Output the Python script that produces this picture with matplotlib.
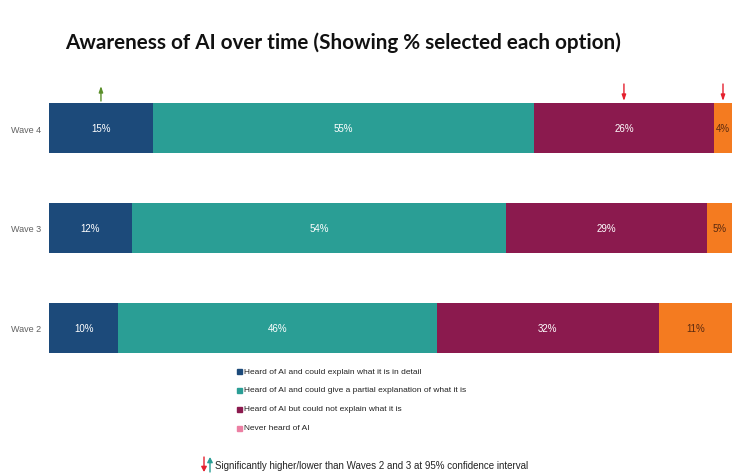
import matplotlib
matplotlib.use("Agg")
import matplotlib.pyplot as plt
import numpy as np
from matplotlib.patches import FancyArrowPatch

waves = ["Wave 2", "Wave 3", "Wave 4"]
detail = [10, 12, 15]
partial = [46, 54, 55]
not_explain = [32, 29, 26]
never = [11, 5, 4]
series_names = [
    "Heard of AI and could explain what it is in detail",
    "Heard of AI and could give a partial explanation of what it is",
    "Heard of AI but could not explain what it is",
    "Never heard of AI",
]
# significance markers for Wave 4: (series index, direction)
sig_wave = "Wave 4"
sig_marks = [(0, "up"), (2, "down"), (3, "down")]

colors = ["#1c4a7a", "#2a9e95", "#8b1a4e", "#f47b20"]
legend_colors = ["#1c4a7a", "#2a9e95", "#8b1a4e", "#ec7fa3"]
label_colors = ["white", "white", "white", "#5a2a10"]

W, H = 732, 477
fig = plt.figure(figsize=(W / 100, H / 100), dpi=100)
fig.patch.set_facecolor("white")

ax_l, ax_r = 49 / W, 1.0
ax_top_px, ax_bot_px = 91, 366
ax = fig.add_axes([ax_l, 1 - ax_bot_px / H, ax_r - ax_l, (ax_bot_px - ax_top_px) / H])

XMAX = 98.6


def visible_center(l, v):
    r = min(l + v, XMAX)
    return (l + r) / 2


series = [detail, partial, not_explain, never]
y = np.arange(len(waves))
left = np.zeros(len(waves))
font = "Liberation Sans"
for s_i, vals in enumerate(series):
    vals = np.array(vals, dtype=float)
    ax.barh(y, vals, left=left, height=0.5, color=colors[s_i], edgecolor="none")
    for yi, (v, l) in enumerate(zip(vals, left)):
        ax.text(visible_center(l, v), yi, f"{int(v)}%", ha="center", va="center",
                fontsize=7, color=label_colors[s_i], family=font)
    left = left + vals

ax.set_xlim(0, XMAX)
ax.set_ylim(-0.37, 2.38)
ax.set_yticks(y)
ax.set_yticklabels(waves, fontsize=6.5, color="#606060", family=font)
ax.tick_params(axis="y", length=0, pad=6)
ax.set_xticks([])
for sp in ax.spines.values():
    sp.set_visible(False)

# significance arrows
wi = waves.index(sig_wave)
cum = np.cumsum([0] + [s[wi] for s in series])
for s_i, d in sig_marks:
    xc = visible_center(cum[s_i], series[s_i][wi])
    if d == "up":
        ax.annotate("", xy=(xc, 2.42), xytext=(xc, 2.27), xycoords="data",
                    arrowprops=dict(arrowstyle="-|>,head_length=0.35,head_width=0.12",
                                    color="#5a8f2a", lw=1.0, shrinkA=0, shrinkB=0),
                    annotation_clip=False)
    else:
        ax.annotate("", xy=(xc, 2.27), xytext=(xc, 2.44), xycoords="data",
                    arrowprops=dict(arrowstyle="-|>,head_length=0.35,head_width=0.12",
                                    color="#e5202e", lw=1.0, shrinkA=0, shrinkB=0),
                    annotation_clip=False)

# title
fig.text(65 / W, 1 - 43 / H, "Awareness of AI over time (Showing % selected each option)",
         fontsize=14.9, fontweight="bold", family="Lato", va="center", ha="left", color="#111111")

# legend
leg_y = [372, 391, 410, 429]
for name, c, py in zip(series_names, legend_colors, leg_y):
    fig.patches.append(plt.Rectangle((237 / W, 1 - (py + 2.5) / H), 5 / W, 5 / H,
                                     transform=fig.transFigure, color=c))
    fig.text(244 / W, 1 - py / H, name, fontsize=6.0, family=font, va="center",
             ha="left", color="#222222")

# footnote
fig.text(215 / W, 1 - 466 / H,
         "Significantly higher/lower than Waves 2 and 3 at 95% confidence interval",
         fontsize=7.0, family=font, va="center", ha="left", color="#222222")
fig.patches.append(FancyArrowPatch((204 / W, 1 - 458 / H), (204 / W, 1 - 473 / H),
                                   transform=fig.transFigure, arrowstyle="-|>,head_length=3,head_width=1.6",
                                   color="#e5202e", lw=1.0, shrinkA=0, shrinkB=0))
fig.patches.append(FancyArrowPatch((210 / W, 1 - 473 / H), (210 / W, 1 - 458 / H),
                                   transform=fig.transFigure, arrowstyle="-|>,head_length=3,head_width=1.6",
                                   color="#2a9e95", lw=1.0, shrinkA=0, shrinkB=0))

fig.savefig("out.png", dpi=100)
